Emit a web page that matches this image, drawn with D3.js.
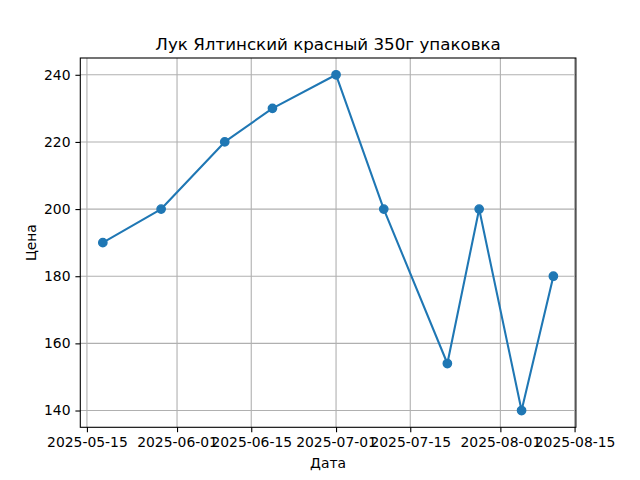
<!DOCTYPE html>
<html><head><meta charset="utf-8">
<script src="https://cdn.jsdelivr.net/npm/d3@7"></script>
<style>
html,body{margin:0;padding:0;background:#fff;}
text{font-family:"DejaVu Sans",sans-serif;fill:#000;}
</style></head>
<body><svg id="c" width="640" height="480"></svg>
<script>
const dates = ["2025-05-18","2025-05-29","2025-06-10","2025-06-19","2025-07-01","2025-07-10","2025-07-22","2025-07-28","2025-08-05","2025-08-11"];
const prices = [190,200,220,230,240,200,154,200,140,180];
const xTickLabels = ["2025-05-15","2025-06-01","2025-06-15","2025-07-01","2025-07-15","2025-08-01","2025-08-15"];
const yTicks = [140,160,180,200,220,240];
const title = "Лук Ялтинский красный 350г упаковка";
const xLabel = "Дата";
const yLabel = "Цена";

const parse = d3.utcParse("%Y-%m-%d");
const data = dates.map((d,i)=>({date:parse(d), value:prices[i]}));

const L=80.3, R=575.9, T=58, B=427.3;
const svg = d3.select("#c");
const x0 = +data[0].date, x1 = +data[data.length-1].date;
const xm = (x1-x0)*0.05;
const x = d3.scaleUtc().domain([new Date(x0-xm), new Date(x1+xm)]).range([L,R]);
const ymin = d3.min(prices), ymax = d3.max(prices), ym=(ymax-ymin)*0.05;
const y = d3.scaleLinear().domain([ymin-ym, ymax+ym]).range([B,T]);

const xTicks = xTickLabels.map(parse);
const fmt = d3.utcFormat("%Y-%m-%d");

// grid
const g = svg.append("g");
g.selectAll("line.gx").data(xTicks).enter().append("line")
  .attr("x1",d=>x(d)).attr("x2",d=>x(d)).attr("y1",T).attr("y2",B)
  .attr("stroke","#b0b0b0").attr("stroke-width",1.1);
g.selectAll("line.gy").data(yTicks).enter().append("line")
  .attr("x1",L).attr("x2",R).attr("y1",d=>y(d)).attr("y2",d=>y(d))
  .attr("stroke","#b0b0b0").attr("stroke-width",1.1);

// axes
const xAxis = d3.axisBottom(x).tickValues(xTicks).tickFormat(fmt).tickSizeInner(4.9).tickSizeOuter(0).tickPadding(4.9);
const yAxis = d3.axisLeft(y).tickValues(yTicks).tickSizeInner(4.9).tickSizeOuter(0).tickPadding(4.9);
const gx = svg.append("g").attr("transform",`translate(0,${B})`).call(xAxis);
const gy = svg.append("g").attr("transform",`translate(${L},0)`).call(yAxis);
[gx,gy].forEach(a=>{
  a.select(".domain").remove();
  a.selectAll(".tick line").attr("stroke","#000").attr("stroke-width",1.1);
  a.selectAll(".tick text").attr("font-size","13.9px").attr("font-family","DejaVu Sans");
});

// data line
const line = d3.line().x(d=>x(d.date)).y(d=>y(d.value));
svg.append("path").datum(data).attr("d",line).attr("fill","none")
  .attr("stroke","#1f77b4").attr("stroke-width",2.08).attr("stroke-linejoin","round").attr("stroke-linecap","square");
svg.selectAll("circle").data(data).enter().append("circle")
  .attr("cx",d=>x(d.date)).attr("cy",d=>y(d.value)).attr("r",4.17)
  .attr("fill","#1f77b4").attr("stroke","#1f77b4").attr("stroke-width",1.39);

// frame
svg.append("rect").attr("x",L).attr("y",T).attr("width",R-L).attr("height",B-T)
  .attr("fill","none").attr("stroke","#000").attr("stroke-width",1.1);

// texts
svg.append("text").attr("x",(L+R)/2).attr("y",T-8.3).attr("text-anchor","middle")
  .attr("font-size","16.7px").text(title);
svg.append("text").attr("x",(L+R)/2).attr("y",468).attr("text-anchor","middle")
  .attr("font-size","13.9px").text(xLabel);
svg.append("text").attr("transform",`translate(36,${(T+B)/2}) rotate(-90)`).attr("text-anchor","middle")
  .attr("font-size","13.9px").text(yLabel);
</script></body></html>
